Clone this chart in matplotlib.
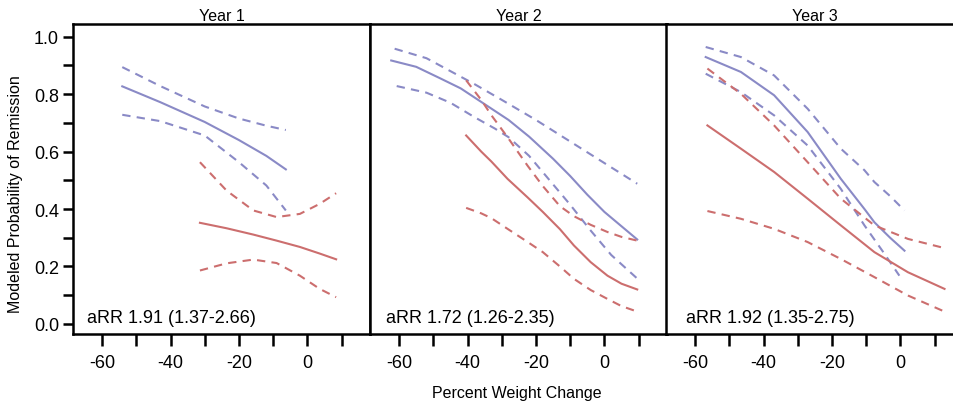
import matplotlib.pyplot as plt

plt.rcParams['font.family'] = ['Liberation Sans', 'DejaVu Sans']
plt.rcParams['axes.unicode_minus'] = False

BLUE = '#8a8ac6'
RED = '#cc6e6e'

years = ['Year 1', 'Year 2', 'Year 3']
arr_labels = ['aRR 1.91 (1.37-2.66)', 'aRR 1.72 (1.26-2.35)', 'aRR 1.92 (1.35-2.75)']

# Year 1
y1_blue_x = [-54.1, -43.0, -30.0, -20.0, -12.0, -6.3]
y1_blue = [0.827, 0.772, 0.703, 0.640, 0.585, 0.538]
y1_blue_hi = [0.894, 0.828, 0.757, 0.715, 0.690, 0.675]
y1_blue_lo = [0.728, 0.706, 0.656, 0.563, 0.482, 0.395]
y1_red_x = [-31.4, -23.6, -15.8, -9.0, -2.2, 3.6, 8.4]
y1_red = [0.352, 0.333, 0.311, 0.290, 0.268, 0.245, 0.225]
y1_red_hi = [0.563, 0.464, 0.395, 0.372, 0.383, 0.418, 0.455]
y1_red_lo = [0.186, 0.211, 0.224, 0.212, 0.168, 0.122, 0.093]

# Year 2
y2_blue_x = [-62.3, -55.0, -48.0, -42.0, -35.0, -28.0, -22.0, -15.0, -10.0, -5.0, 0.0, 5.0, 9.6]
y2_blue = [0.917, 0.895, 0.855, 0.820, 0.765, 0.710, 0.652, 0.575, 0.515, 0.450, 0.390, 0.340, 0.294]
y2_blue_hi_x = [-61.3, -52.0, -45.0, -38.0, -30.0, -20.0, -10.0, 0.0, 9.6]
y2_blue_hi = [0.958, 0.925, 0.880, 0.835, 0.780, 0.710, 0.635, 0.560, 0.488]
y2_blue_lo_x = [-60.7, -52.0, -45.0, -38.0, -32.0, -28.0, -22.0, -16.0, -10.0, -4.0, 2.0, 9.6]
y2_blue_lo = [0.828, 0.805, 0.770, 0.720, 0.680, 0.650, 0.585, 0.500, 0.415, 0.325, 0.240, 0.158]
y2_red_x = [-40.4, -36.0, -33.0, -28.3, -22.4, -18.0, -13.0, -8.9, -4.0, 0.9, 5.0, 9.6]
y2_red = [0.656, 0.600, 0.565, 0.505, 0.440, 0.390, 0.330, 0.273, 0.215, 0.168, 0.140, 0.120]
y2_red_hi = [0.848, 0.780, 0.726, 0.650, 0.550, 0.480, 0.410, 0.375, 0.345, 0.320, 0.303, 0.290]
y2_red_lo = [0.404, 0.385, 0.368, 0.331, 0.285, 0.250, 0.200, 0.157, 0.118, 0.087, 0.062, 0.043]

# Year 3
y3_blue_x = [-56.9, -46.6, -36.9, -27.1, -17.4, -10.5, -7.6, -3.0, 1.2]
y3_blue = [0.929, 0.877, 0.796, 0.668, 0.505, 0.400, 0.354, 0.300, 0.255]
y3_blue_hi = [0.964, 0.929, 0.865, 0.749, 0.610, 0.535, 0.494, 0.445, 0.395]
y3_blue_lo_x = [-56.9, -46.6, -36.9, -27.1, -17.4, -10.5, -5.0, -0.3]
y3_blue_lo = [0.871, 0.807, 0.726, 0.621, 0.470, 0.343, 0.250, 0.168]
y3_red_x = [-56.4, -46.6, -36.9, -27.1, -17.4, -7.6, 2.2, 12.9]
y3_red = [0.691, 0.610, 0.529, 0.436, 0.343, 0.250, 0.180, 0.122]
y3_red_hi = [0.889, 0.801, 0.691, 0.563, 0.436, 0.343, 0.296, 0.264]
y3_red_lo = [0.393, 0.366, 0.331, 0.285, 0.226, 0.163, 0.099, 0.043]

# (x, y, style) per line for each panel
panels = [
    [(y1_blue_x, y1_blue, BLUE, '-'), (y1_blue_x, y1_blue_hi, BLUE, '--'),
     (y1_blue_x, y1_blue_lo, BLUE, '--'), (y1_red_x, y1_red, RED, '-'),
     (y1_red_x, y1_red_hi, RED, '--'), (y1_red_x, y1_red_lo, RED, '--')],
    [(y2_blue_x, y2_blue, BLUE, '-'), (y2_blue_hi_x, y2_blue_hi, BLUE, '--'),
     (y2_blue_lo_x, y2_blue_lo, BLUE, '--'), (y2_red_x, y2_red, RED, '-'),
     (y2_red_x, y2_red_hi, RED, '--'), (y2_red_x, y2_red_lo, RED, '--')],
    [(y3_blue_x, y3_blue, BLUE, '-'), (y3_blue_x, y3_blue_hi, BLUE, '--'),
     (y3_blue_lo_x, y3_blue_lo, BLUE, '--'), (y3_red_x, y3_red, RED, '-'),
     (y3_red_x, y3_red_hi, RED, '--'), (y3_red_x, y3_red_lo, RED, '--')],
]

fig = plt.figure(figsize=(9.54, 4.06), dpi=100)

lefts = [73 / 954, 370 / 954, 666 / 954]
text_x = [0.048, 0.054, 0.066]

for i, (left, lines) in enumerate(zip(lefts, panels)):
    ax = fig.add_axes([left, 0.1749, 297 / 954, 0.7635])
    for x, y, c, s in lines:
        ls = (0, (4, 3)) if s == '--' else '-'
        ax.plot(x, y, color=c, lw=1.5, ls=ls)

    ax.set_xlim(-68.5, 18.3)
    ax.set_ylim(-0.035, 1.044)
    ax.set_xticks(range(-60, 11, 10))
    ax.set_xticklabels(['-60', '', '-40', '', '-20', '', '0', ''])
    for sp in ax.spines.values():
        sp.set_linewidth(1.8)
    ax.tick_params(axis='x', direction='out', length=8.5, width=1.8, pad=6, labelsize=13)
    if i == 0:
        ax.set_yticks([k / 10 for k in range(11)])
        ax.set_yticklabels(['0.0', '', '0.2', '', '0.4', '', '0.6', '', '0.8', '', '1.0'])
        ax.tick_params(axis='y', direction='out', length=7, width=1.8, pad=3, labelsize=13)
    else:
        ax.set_yticks([])
    ax.set_title(years[i], fontsize=11.5, pad=3)
    ax.text(text_x[i], 0.039, arr_labels[i], transform=ax.transAxes,
            fontsize=13, va='baseline', ha='left')

fig.text(16 / 954, 0.521, 'Modeled Probability of Remission', rotation=90,
         ha='center', va='center', fontsize=11.5)
fig.text(0.542, 0.032, 'Percent Weight Change', ha='center', va='center', fontsize=11.5)

fig.savefig('out.png', dpi=100)
